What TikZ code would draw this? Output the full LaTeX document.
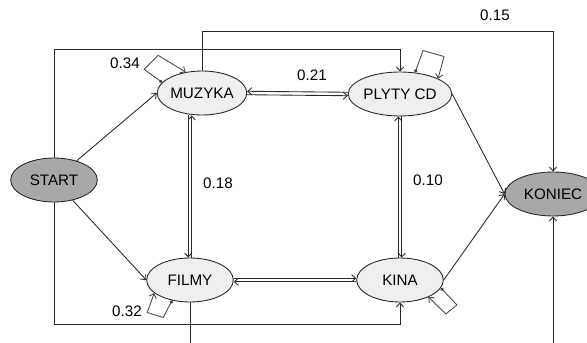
\documentclass[tikz,border=0pt]{standalone}
\usepackage{fontspec}
\setmainfont{Liberation Sans}
\usepackage{tikz}
\usetikzlibrary{arrows.meta,calc,positioning,shapes.geometric}
\usepackage{xcolor}
\definecolor{jasny}{HTML}{EFEFEF}
\definecolor{ciemny}{HTML}{A8A8A8}
\definecolor{linia}{HTML}{282828}

\begin{document}
\begin{tikzpicture}[x=0.75pt, y=-0.75pt, line width=0.65pt,
  every node/.style={font=\fontsize{11.4}{13}\selectfont},
  stan/.style={ellipse, draw=linia, fill=jasny, inner sep=0pt, minimum width=65pt, minimum height=33pt},
  kraniec/.style={stan, fill=ciemny},
  arr/.style={linia, -{Straight Barb[length=3pt,width=5.5pt]}},
  petla/.style={linia!85, {Circle[length=2.6pt]}-{Straight Barb[length=3pt,width=5.5pt]}}]
\path[use as bounding box, clip] (0,0) rectangle (587,343);
% Stany
\node[kraniec] (start) at (54,180) {START};
\node[stan] (muz) at (202,93) {MUZYKA};
\node[stan] (ply) at (400,94) {PLYTY CD};
\node[stan] (fil) at (190,280) {FILMY};
\node[stan] (kina) at (400,280) {KINA};
\node[kraniec, minimum width=72pt] (kon) at (553,194) {KONIEC};
% Punkty pomocnicze dla linii łamanych
\coordinate (g1) at (0,31);
\coordinate (g2) at (0,49);
\coordinate (d1) at (0,324);
\coordinate (d2) at (0,380);
% Przejścia proste
\draw[arr] (start) -- (muz.west);
\draw[arr] (start) -- (fil.west);
\draw[arr] (ply.east) -- (kon.west);
\draw[arr] (kina.east) -- (kon.west);
% Przejścia łamane
\draw[arr] (start.north) -- (start.north |- g2) -| (ply.north);
\draw[arr] (muz.north) -- (muz.north |- g1) -| (kon.north);
\draw[arr] (start.south) -- (start.south |- d1) -| (kina.south);
\draw[arr] (fil.south) -- (fil.south |- d2) -| (kon.south);
\node at (495,15) {0.15};
% Przejścia w obie strony (podwójne linie)
\draw[arr] ([yshift=-1.3pt]muz.east) -- ([yshift=-1.3pt]ply.west);
\draw[arr] ([yshift=1.3pt]ply.west) -- ([yshift=1.3pt]muz.east);
\draw[arr] ([xshift=-1.3pt]fil.north |- muz.south) -- ([xshift=-1.3pt]fil.north);
\draw[arr] ([xshift=1.3pt]fil.north) -- ([xshift=1.3pt]fil.north |- muz.south);
\draw[arr] ([xshift=-1.3pt]kina.north) -- ([xshift=-1.3pt]ply.south);
\draw[arr] ([xshift=1.3pt]ply.south) -- ([xshift=1.3pt]kina.north);
\draw[arr] ([yshift=-1.3pt]kina.west) -- ([yshift=-1.3pt]fil.east);
\draw[arr] ([yshift=1.3pt]fil.east) -- ([yshift=1.3pt]kina.west);
\node at (312,75) {0.21};
\node at (218,183) {0.18};
\node at (428,180) {0.10};
% Pętle własne
\draw[petla] (muz.165) -- ++(-18,-13) -- ++(14,-14) -- (muz.128);
\draw[petla] (ply.55) -- ++(8,-22) -- ++(21,6) -- (ply.22);
\draw[petla] (fil.229) -- ++(-9,17) -- ++(-16,-5) -- (fil.200);
\draw[petla] (kina.-11) -- ++(16,17) -- ++(-11,9) -- (kina.-31);
\node at (125,63) {0.34};
\node at (127,311) {0.32};
\end{tikzpicture}
\end{document}
